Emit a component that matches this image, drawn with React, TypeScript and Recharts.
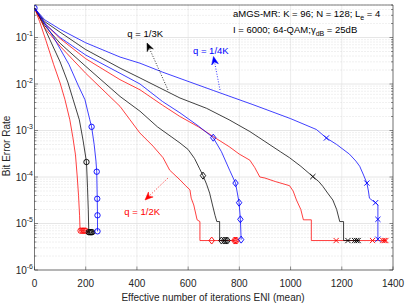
import React from 'react';
import { ComposedChart, Line, XAxis, YAxis, CartesianGrid, ReferenceLine } from 'recharts';

const W = 407;
const H = 305;
const FONT = '"Liberation Sans", Arial, Helvetica, sans-serif';
const AX = '#262626';

const xTicks = [0, 200, 400, 600, 800, 1000, 1200, 1400];
const yTicks = [1e-6, 1e-5, 1e-4, 1e-3, 1e-2, 1e-1];
const yDomain: [number, number] = [1e-6, 0.5];

// ---- circle group ----
const rcX = [0, 20, 45, 75, 100, 119, 138, 150, 160, 167, 172, 176, 178, 200];
const rcY = [0.43, 0.22, 0.085, 0.026, 0.0105, 0.0046, 0.0017, 0.0007, 0.0003, 0.0001, 0.00004, 0.000015, 0.000007, 0.000007];
const rcMX = [180, 187, 193, 199];
const rcMY = [0.000007, 0.000007, 0.000007, 0.000007];

const bcX = [0, 28, 60, 100, 130, 151, 175, 190, 203, 207, 210, 212, 226];
const bcY = [0.43, 0.22, 0.09, 0.03, 0.011, 0.0046, 0.0017, 0.0006, 0.00021, 0.00006, 0.00002, 0.0000065, 0.0000065];
const bcMX = [203, 212, 217, 221, 225];
const bcMY = [0.00021, 0.0000065, 0.0000065, 0.0000065, 0.0000065];

const lcX = [0, 35, 75, 135, 170, 197, 216, 223, 233, 240, 243, 245, 246, 246];
const lcY = [0.43, 0.22, 0.1, 0.026, 0.0095, 0.0046, 0.0017, 0.0012, 0.0005, 0.00022, 0.00013, 0.000034, 0.000015, 0.0000068];
const lcMX = [0, 223, 243, 245, 246, 246];
const lcMY = [0.43, 0.0012, 0.00013, 0.000034, 0.000015, 0.0000068];

// ---- diamond group ----
const rdX = [0, 40, 100, 200, 334, 373, 411, 463, 502, 528, 568, 590, 607, 612, 622, 635, 646, 646, 790];
const rdY = [0.43, 0.16, 0.065, 0.017, 0.0033, 0.0017, 0.00089, 0.00046, 0.00026, 0.00014, 0.000087, 0.000065, 0.000053, 0.000035, 0.000025, 0.000012, 0.000011, 0.0000043, 0.0000043];
const rdMX = [692, 780, 785, 790];
const rdMY = [0.0000043, 0.0000043, 0.0000043, 0.0000043];

const bdX = [0, 40, 100, 200, 334, 412, 480, 568, 600, 625, 645, 658, 672, 684, 695, 705, 712, 723, 723, 756];
const bdY = [0.43, 0.18, 0.075, 0.024, 0.0054, 0.0026, 0.0012, 0.00054, 0.00039, 0.00025, 0.00015, 0.000107, 0.00007, 0.000045, 0.000025, 0.000015, 0.000011, 0.000011, 0.0000043, 0.0000043];
const bdMX = [658, 730, 740, 748, 754];
const bdMY = [0.000107, 0.0000043, 0.0000043, 0.0000043, 0.0000043];

const ldX = [0, 40, 100, 200, 334, 412, 500, 568, 640, 698, 730, 762, 785, 799, 804, 807];
const ldY = [0.43, 0.2, 0.1, 0.042, 0.017, 0.01, 0.0042, 0.0024, 0.00125, 0.0007, 0.00035, 0.00014, 0.000074, 0.000028, 0.0000123, 0.0000045];
const ldMX = [698, 785, 799, 804, 807];
const ldMY = [0.0007, 0.000074, 0.000028, 0.0000123, 0.0000045];

// ---- x group ----
const rxX = [0, 40, 100, 200, 334, 412, 500, 568, 640, 698, 760, 800, 841, 860, 880, 900, 940, 996, 1010, 1023, 1040, 1050, 1081, 1081, 1375];
const rxY = [0.43, 0.2, 0.095, 0.035, 0.0124, 0.0075, 0.0035, 0.002, 0.0012, 0.00074, 0.00045, 0.00031, 0.00023, 0.00016, 0.0001, 0.000095, 0.00008, 0.000065, 0.00005, 0.000032, 0.00002, 0.000012, 0.000012, 0.0000043, 0.0000043];
const rxMX = [1178, 1320, 1360, 1366, 1372];
const rxMY = [0.0000043, 0.0000043, 0.0000043, 0.0000043, 0.0000043];

const bxX = [0, 40, 100, 200, 334, 412, 568, 672, 760, 841, 900, 960, 996, 1040, 1087, 1110, 1126, 1145, 1165, 1180, 1192, 1207, 1207, 1270];
const bxY = [0.43, 0.22, 0.13, 0.055, 0.022, 0.0135, 0.005, 0.003, 0.0017, 0.00095, 0.00058, 0.00035, 0.00026, 0.00017, 0.000102, 0.00008, 0.000063, 0.000045, 0.000032, 0.00002, 0.000011, 0.000011, 0.0000043, 0.0000043];
const bxMX = [1087, 1224, 1250, 1258, 1264];
const bxMY = [0.000102, 0.0000043, 0.0000043, 0.0000043, 0.0000043];

const lxX = [0, 40, 100, 200, 334, 412, 500, 700, 853, 1000, 1101, 1140, 1180, 1230, 1255, 1270, 1285, 1298, 1304, 1308, 1320, 1332, 1341, 1341, 1341];
const lxY = [0.43, 0.24, 0.15, 0.077, 0.038, 0.028, 0.018, 0.0072, 0.0036, 0.0018, 0.00105, 0.00069, 0.0005, 0.00031, 0.00022, 0.00017, 0.00011, 0.000074, 0.00005, 0.000035, 0.000031, 0.000028, 0.000025, 0.0000123, 0.0000046];
const lxMX = [1140, 1298, 1332, 1341, 1341];
const lxMY = [0.00069, 0.000074, 0.000028, 0.0000123, 0.0000046];

const RED = '#ff0000';
const BLACK = '#000000';
const BLUE = '#0000ff';

type Mk = 'o' | 'd' | 'x';
const series: { id: string; color: string; mk: Mk; xs: number[]; ys: number[]; mx: number[]; my: number[] }[] = [
  { id: 'rc', color: RED, mk: 'o', xs: rcX, ys: rcY, mx: rcMX, my: rcMY },
  { id: 'bc', color: BLACK, mk: 'o', xs: bcX, ys: bcY, mx: bcMX, my: bcMY },
  { id: 'rd', color: RED, mk: 'd', xs: rdX, ys: rdY, mx: rdMX, my: rdMY },
  { id: 'bd', color: BLACK, mk: 'd', xs: bdX, ys: bdY, mx: bdMX, my: bdMY },
  { id: 'rx', color: RED, mk: 'x', xs: rxX, ys: rxY, mx: rxMX, my: rxMY },
  { id: 'bx', color: BLACK, mk: 'x', xs: bxX, ys: bxY, mx: bxMX, my: bxMY },
  { id: 'ld', color: BLUE, mk: 'd', xs: ldX, ys: ldY, mx: ldMX, my: ldMY },
  { id: 'lx', color: BLUE, mk: 'x', xs: lxX, ys: lxY, mx: lxMX, my: lxMY },
  { id: 'lc', color: BLUE, mk: 'o', xs: lcX, ys: lcY, mx: lcMX, my: lcMY },
];

const pts = (xs: number[], ys: number[]) => xs.map((x, i) => ({ x, y: ys[i] }));

const minorTicks: number[] = [];
yTicks.forEach((d) => {
  for (let k = 2; k <= 9; k++) {
    const v = d * k;
    if (v <= 0.5 + 1e-12) minorTicks.push(v);
  }
});
const allYTicks = [...yTicks, ...minorTicks].sort((a, b) => a - b);

const isMajor = (v: number) => {
  const lg = Math.log10(v);
  return Math.abs(lg - Math.round(lg)) < 1e-6;
};

const makeDot = (mk: Mk, color: string) => (p: any) => {
  const { cx, cy, index } = p;
  if (cx == null || cy == null) return <g key={`n${index}`} />;
  if (mk === 'o') {
    return <circle key={`m${index}`} cx={cx} cy={cy} r={2.7} fill="none" stroke={color} strokeWidth={0.9} />;
  }
  if (mk === 'd') {
    return (
      <polygon
        key={`m${index}`}
        points={`${cx},${cy - 3.5} ${cx + 2.7},${cy} ${cx},${cy + 3.5} ${cx - 2.7},${cy}`}
        fill="none"
        stroke={color}
        strokeWidth={0.9}
      />
    );
  }
  const s = 2.6;
  return (
    <path
      key={`m${index}`}
      d={`M${cx - s},${cy - s}L${cx + s},${cy + s}M${cx - s},${cy + s}L${cx + s},${cy - s}`}
      stroke={color}
      strokeWidth={0.9}
      fill="none"
    />
  );
};

const LeftTick = (p: any) => {
  const { x, y, payload } = p;
  const v = payload.value;
  const maj = isMajor(v);
  return (
    <g>
      <line x1={x} x2={x + (maj ? 3.5 : 2)} y1={y} y2={y} stroke={AX} strokeWidth={0.5} />
      {maj && (
        <text x={x - 1.5} y={y + 3.6} textAnchor="end" fontSize={10} fill={AX} fontFamily={FONT}>
          10<tspan dy={-5} fontSize={7}>{String(Math.round(Math.log10(v)))}</tspan>
        </text>
      )}
    </g>
  );
};

const RightTick = (p: any) => {
  const { x, y, payload } = p;
  const maj = isMajor(payload.value);
  return <line x1={x} x2={x - (maj ? 3.5 : 2)} y1={y} y2={y} stroke={AX} strokeWidth={0.5} />;
};

const BottomTick = (p: any) => {
  const { x, y, payload } = p;
  return (
    <g>
      <line x1={x} x2={x} y1={y} y2={y - 3.5} stroke={AX} strokeWidth={0.5} />
      <text x={x} y={y + 16.5} textAnchor="middle" fontSize={10} fill={AX} fontFamily={FONT}>
        {String(payload.value)}
      </text>
    </g>
  );
};

const TopTick = (p: any) => {
  const { x, y } = p;
  return <line x1={x} x2={x} y1={y} y2={y + 3.5} stroke={AX} strokeWidth={0.5} />;
};

function Arrow({ x1, y1, x2, y2, color }: { x1: number; y1: number; x2: number; y2: number; color: string }) {
  const dx = x2 - x1;
  const dy = y2 - y1;
  const L = Math.hypot(dx, dy);
  const ux = dx / L;
  const uy = dy / L;
  const nx = -uy;
  const ny = ux;
  const hl = 8;
  const hw = 3.4;
  const notch = 5.5;
  const bx = x2 - ux * hl;
  const by = y2 - uy * hl;
  const pts2 = [
    [x2, y2],
    [bx + nx * hw, by + ny * hw],
    [x2 - ux * notch, y2 - uy * notch],
    [bx - nx * hw, by - ny * hw],
  ]
    .map((q) => q.join(','))
    .join(' ');
  return (
    <g>
      <line x1={x1} y1={y1} x2={x2 - ux * notch} y2={y2 - uy * notch} stroke={color} strokeWidth={0.8} strokeDasharray="1 1.6" />
      <polygon points={pts2} fill={color} stroke={color} strokeWidth={0.5} />
    </g>
  );
}

export default function App() {
  return (
    <div style={{ position: 'absolute', left: 0, top: 0, width: W, height: H, background: '#fff' }}>
      <ComposedChart width={W} height={H} margin={{ top: 4, right: 13, bottom: 0, left: 0 }}>
        <CartesianGrid horizontal={false} vertical stroke="#e0e0e0" strokeWidth={0.6} />
        {minorTicks.map((v) => (
          <ReferenceLine key={`mi${v}`} y={v} stroke="#c4c4c4" strokeWidth={0.5} strokeDasharray="1 2" />
        ))}
        {yTicks.map((v) => (
          <ReferenceLine key={`ma${v}`} y={v} stroke="#e0e0e0" strokeWidth={0.8} />
        ))}
        <XAxis
          dataKey="x"
          type="number"
          domain={[0, 1400]}
          ticks={xTicks}
          interval={0}
          height={35}
          tickSize={0}
          tickMargin={0}
          tickLine={false}
          tick={BottomTick}
          axisLine={{ stroke: AX, strokeWidth: 0.6 }}
          allowDataOverflow
        />
        <XAxis
          xAxisId="t"
          orientation="top"
          type="number"
          domain={[0, 1400]}
          ticks={xTicks}
          interval={0}
          height={1}
          tickSize={0}
          tickMargin={0}
          tickLine={false}
          tick={TopTick}
          axisLine={{ stroke: AX, strokeWidth: 0.6 }}
          allowDataOverflow
        />
        <YAxis
          dataKey="y"
          scale="log"
          type="number"
          domain={yDomain}
          ticks={allYTicks}
          interval={0}
          width={34.5}
          tickSize={0}
          tickMargin={0}
          tickLine={false}
          tick={LeftTick}
          axisLine={{ stroke: AX, strokeWidth: 0.6 }}
          allowDataOverflow
        />
        <YAxis
          yAxisId="r"
          orientation="right"
          scale="log"
          type="number"
          domain={yDomain}
          ticks={allYTicks}
          interval={0}
          width={1}
          tickSize={0}
          tickMargin={0}
          tickLine={false}
          tick={RightTick}
          axisLine={{ stroke: AX, strokeWidth: 0.6 }}
          allowDataOverflow
        />
        {series.map((s) => (
          <Line
            key={s.id}
            data={pts(s.xs, s.ys)}
            dataKey="y"
            type="linear"
            stroke={s.color}
            strokeWidth={0.75}
            dot={false}
            activeDot={false}
            isAnimationActive={false}
          />
        ))}
        {series.map((s) => (
          <Line
            key={`${s.id}-m`}
            data={pts(s.mx, s.my)}
            dataKey="y"
            type="linear"
            stroke="none"
            dot={makeDot(s.mk, s.color)}
            activeDot={false}
            isAnimationActive={false}
          />
        ))}
      </ComposedChart>
      <svg
        width={W}
        height={H}
        style={{ position: 'absolute', left: 0, top: 0, pointerEvents: 'none' }}
        fontFamily={FONT}
      >
        <text x={233} y={16.5} fontSize={9.5} fill="#000">
          aMGS-MR: K = 96; N = 128; L<tspan dy={3} fontSize={7}>e</tspan>
          <tspan dy={-3}>{'  = 4'}</tspan>
        </text>
        <text x={233} y={32.5} fontSize={9.5} fill="#000">
          I = 6000; 64-QAM;γ<tspan dy={3} fontSize={7}>dB</tspan>
          <tspan dy={-3}>{' = 25dB'}</tspan>
        </text>
        <text x={163} y={36.5} fontSize={9.5} fill="#000" textAnchor="end">q = 1/3K</text>
        <text x={193} y={54} fontSize={9.5} fill={BLUE}>q = 1/4K</text>
        <text x={160} y={215} fontSize={9.5} fill={RED} textAnchor="end">q = 1/2K</text>
        <Arrow x1={168} y1={90} x2={147} y2={43} color="#000" />
        <Arrow x1={220} y1={90} x2={213.5} y2={56.5} color={BLUE} />
        <Arrow x1={168} y1={178} x2={145} y2={200} color={RED} />
        <text x={213} y={300.5} fontSize={10} fill={AX} textAnchor="middle">
          Effective number of iterations ENI (mean)
        </text>
        <text x={9.5} y={146} fontSize={10} fill={AX} textAnchor="middle" transform="rotate(-90 9.5 146)">
          Bit Error Rate
        </text>
      </svg>
    </div>
  );
}
